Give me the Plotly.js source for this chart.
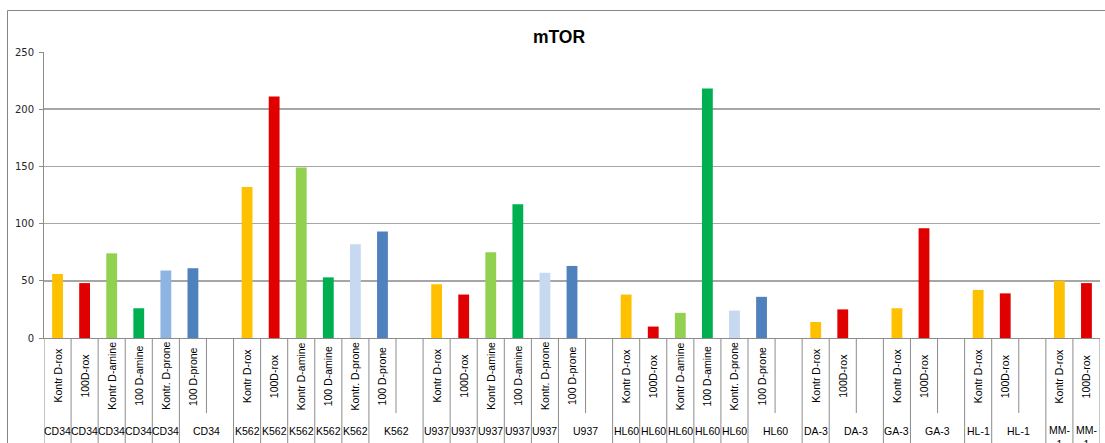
<!DOCTYPE html>
<html>
<head>
<meta charset="utf-8">
<script src="https://cdn.plot.ly/plotly-3.0.1.min.js"></script>
<style>html,body{margin:0;padding:0;background:#fff;}#chart{width:1105px;height:443px;}</style>
</head>
<body>
<div id="chart"></div>
<script>
// ---- data ----
const groups = ["CD34", "K562", "U937", "HL60", "DA-3", "GA-3", "HL-1", "MM-1"];
const treatments6 = ["Kontr D-rox", "100D-rox", "Kontr D-amine", "100 D-amine", "Kontr. D-prone", "100 D-prone"];
const treatments2 = ["Kontr D-rox", "100D-rox"];
const cd34Values = [56, 48, 74, 26, 59, 61];
const k562Values = [132, 211, 149, 53, 82, 93];
const u937Values = [47, 38, 75, 117, 57, 63];
const hl60Values = [38, 10, 22, 218, 24, 36];
const da3Values = [14, 25];
const ga3Values = [26, 96];
const hl1Values = [42, 39];
const mm1Values = [50, 48];
const groupTreatments = [treatments6, treatments6, treatments6, treatments6, treatments2, treatments2, treatments2, treatments2];
const groupValues = [cd34Values, k562Values, u937Values, hl60Values, da3Values, ga3Values, hl1Values, mm1Values];

// ---- styles ----
const treatmentColors = {
  "Kontr D-rox": "#FFC000",
  "100D-rox": "#E00000",
  "Kontr D-amine": "#92D050",
  "100 D-amine": "#00B050",
  "Kontr. D-prone": "#C6D9F1",
  "100 D-prone": "#4F81BD"
};
const colorOverrides = {"CD34|Kontr. D-prone": "#8EB4E3"};

// plot geometry (pixels) used to place the axis-label furniture
const plotTop = 52, plotBottom = 338, plotH = plotBottom - plotTop;
const pxToPaperY = px => (plotBottom - px) / plotH;

const xs = [], ys = [], colors = [], annotations = [], shapes = [];
const labelFont = {family: "Liberation Sans, Arial, sans-serif", size: 10.5, color: "#000"};
const fullBottom = pxToPaperY(460), shortBottom = pxToPaperY(413);
function sep(x, short) {
  shapes.push({type: "line", xref: "x", yref: "paper", x0: x, x1: x, y0: 0, y1: short ? shortBottom : fullBottom,
    line: {color: "#8C8C8C", width: 1}});
}

let pos = 0;
groups.forEach((g, gi) => {
  const tr = groupTreatments[gi], vals = groupValues[gi];
  const last = gi === groups.length - 1;
  const n = tr.length;
  sep(pos - 0.5, false);
  tr.forEach((t, j) => {
    const x = pos + j;
    xs.push(x); ys.push(vals[j]);
    colors.push(colorOverrides[g + "|" + t] || treatmentColors[t]);
    annotations.push({xref: "x", yref: "paper", x: x, y: pxToPaperY(376), text: t, textangle: -90,
      showarrow: false, xanchor: "center", yanchor: "middle", font: labelFont});
    const merged = (j === n - 1) && !last;
    annotations.push({xref: "x", yref: "paper", x: merged ? x + 0.5 : x, y: pxToPaperY(431),
      text: g === "MM-1" ? "MM-<br>1" : g, showarrow: false, xanchor: "center", yanchor: "middle",
      yshift: g === "MM-1" ? -6 : 0, font: labelFont});
    if (j < n - 1) sep(x + 0.5, false);
  });
  if (!last) {
    sep(pos + n - 0.5, true);
    pos += n + 1;
  } else {
    sep(pos + n - 0.5, false);
    pos += n;
  }
});

// outer chart border
shapes.push({type: "rect", xref: "paper", yref: "paper", x0: (7.5 - 44) / 1056, x1: 1.2,
  y0: -0.6, y1: pxToPaperY(10.5), line: {color: "#868686", width: 1}, fillcolor: "rgba(0,0,0,0)"});

const trace = {
  type: "bar", x: xs, y: ys, width: 0.4,
  marker: {color: colors, line: {width: 0}},
  hoverinfo: "skip"
};

const layout = {
  width: 1105, height: 443,
  margin: {l: 44, r: 5, t: plotTop, b: 443 - plotBottom, pad: 0},
  paper_bgcolor: "#fff", plot_bgcolor: "#fff",
  showlegend: false,
  title: {text: "mTOR", x: 559 / 1105, xanchor: "center", y: 1 - 37 / 443, yanchor: "middle",
    font: {family: "Liberation Sans, Arial, sans-serif", size: 17.5, weight: "bold", color: "#000"}},
  xaxis: {range: [-0.5, pos - 0.5], showticklabels: false, ticks: "", showgrid: false, zeroline: false,
    showline: true, linecolor: "#8C8C8C", linewidth: 1, fixedrange: true},
  yaxis: {range: [0, 250], dtick: 50, showgrid: true, gridcolor: "#A6A6A6", gridwidth: 1.5, zeroline: false,
    showline: true, linecolor: "#8C8C8C", linewidth: 1, ticks: "outside", ticklen: 4, tickcolor: "#8C8C8C",
    ticklabelstandoff: 3,
    tickfont: {family: "DejaVu Sans, sans-serif", size: 10, color: "#262626"}, fixedrange: true},
  annotations: annotations,
  shapes: shapes
};

Plotly.newPlot("chart", [trace], layout, {displayModeBar: false, staticPlot: true});
</script>
</body>
</html>
